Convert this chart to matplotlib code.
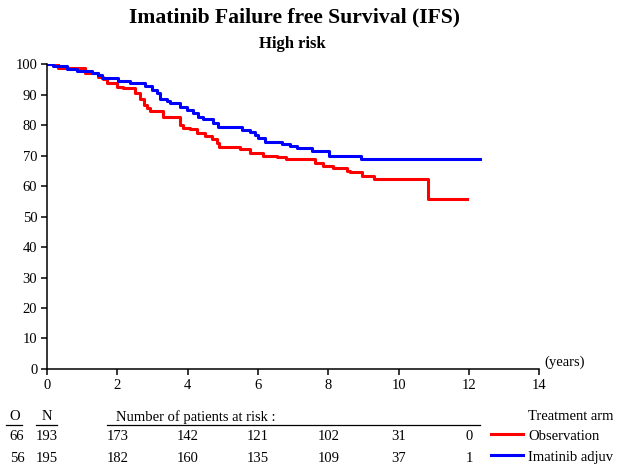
import matplotlib
matplotlib.use("Agg")
import matplotlib.pyplot as plt
from matplotlib.transforms import blended_transform_factory
from matplotlib.patches import Rectangle

plt.rcParams['font.family'] = ['Liberation Serif', 'DejaVu Serif']

# Kaplan-Meier step points (years, % failure-free)
obs_t = [0, 0.31, 1.08, 1.45, 1.59, 1.71, 1.99, 2.16, 2.50, 2.65, 2.76, 2.85, 2.93,
         3.30, 3.78, 3.87, 4.07, 4.27, 4.50, 4.70, 4.84, 4.89, 5.49, 5.78, 6.15,
         6.55, 6.80, 7.63, 7.85, 8.14, 8.54, 8.62, 8.96, 9.31, 10.84, 11.95]
obs_s = [100, 98.6, 97.1, 95.9, 95.0, 93.7, 92.6, 92.0, 90.5, 88.5, 86.5, 85.6, 84.7,
         82.7, 80.0, 79.0, 78.6, 77.5, 76.4, 75.3, 74.0, 72.9, 72.1, 70.8, 70.0,
         69.4, 68.7, 67.4, 66.7, 65.8, 65.0, 64.5, 63.3, 62.2, 55.8, 55.8]

ima_t = [0, 0.17, 0.57, 0.85, 1.28, 1.45, 1.57, 2.02, 2.36, 2.79, 2.99, 3.13, 3.22,
         3.41, 3.50, 3.78, 3.98, 4.15, 4.30, 4.44, 4.72, 4.87, 5.55, 5.78, 5.92,
         6.00, 6.20, 6.69, 6.92, 7.11, 7.54, 8.03, 8.94, 12.32]
ima_s = [100, 99.3, 98.3, 97.8, 97.2, 96.4, 95.5, 94.5, 93.7, 92.8, 91.5, 90.4, 88.7,
         87.9, 87.1, 85.8, 84.9, 83.8, 82.7, 81.9, 80.8, 79.3, 78.3, 77.6, 76.7,
         75.6, 74.5, 73.8, 73.1, 72.6, 71.4, 69.9, 69.0, 69.0]

arms = ['Observation', 'Imatinib adjuvant']
colors = ['#ff0000', '#0000ff']
events = ['66', '56']
totals = ['193', '195']
risk_times = [2, 4, 6, 8, 10, 12]
at_risk = [['173', '142', '121', '102', '31', '0'],
           ['182', '160', '135', '109', '37', '1']]

fig = plt.figure(figsize=(6.27, 4.71), dpi=100)
ax = fig.add_axes([0.075, 0.2166, 0.785, 0.6474])

ax.step(obs_t, obs_s, where='post', color=colors[0], lw=2.2)
ax.step(ima_t, ima_s, where='post', color=colors[1], lw=2.2)

ax.set_xlim(0, 14)
ax.set_ylim(0, 100)
ax.set_xticks(range(0, 15, 2))
ax.set_yticks(range(0, 101, 10))
ax.spines['top'].set_visible(False)
ax.spines['right'].set_visible(False)
for s in ['left', 'bottom']:
    ax.spines[s].set_linewidth(1.1)
ax.tick_params(direction='out', length=4, width=1.1, labelsize=10.5, pad=3)
ax.text(14.15, 0, '(years)', fontsize=10.5, va='bottom', ha='left')

fig.text(0.469, 0.963, 'Imatinib Failure free Survival (IFS)', ha='center', va='center',
         fontsize=15.6, fontweight='bold')
fig.text(0.466, 0.907, 'High risk', ha='center', va='center', fontsize=12, fontweight='bold')

# number at risk table
W, H = 627.0, 471.0
def fx(px):
    return px / W
def fy(py):
    return 1 - py / H

clip = Rectangle((0, 0), 613 / W, 1, transform=fig.transFigure, visible=False)
fig.add_artist(clip)
mix = blended_transform_factory(ax.transData, fig.transFigure)

fs = 10.5
texts = []
texts.append(fig.text(fx(15), fy(417), 'O', ha='center', va='center', fontsize=fs))
texts.append(fig.text(fx(47), fy(417), 'N', ha='center', va='center', fontsize=fs))
texts.append(fig.text(fx(116), fy(417), 'Number of patients at risk :', ha='left', va='center', fontsize=fs))
fig.add_artist(plt.Line2D([fx(6), fx(22)], [fy(425), fy(425)], color='black', lw=0.9))
fig.add_artist(plt.Line2D([fx(36), fx(57)], [fy(425), fy(425)], color='black', lw=0.9))
fig.add_artist(plt.Line2D([fx(107), fx(480)], [fy(425), fy(425)], color='black', lw=0.9))

row_y = [437, 458]
for i in range(2):
    texts.append(fig.text(fx(17), fy(row_y[i]), events[i], ha='center', va='center', fontsize=fs))
    texts.append(fig.text(fx(47), fy(row_y[i]), totals[i], ha='center', va='center', fontsize=fs))
    for t, v in zip(risk_times, at_risk[i]):
        ax.text(t, fy(row_y[i]), v, ha='center', va='center', fontsize=fs,
                transform=mix, clip_on=False)
    fig.add_artist(plt.Line2D([fx(491), fx(523)], [fy(row_y[i] - 3), fy(row_y[i] - 3)],
                              color=colors[i], lw=2.2))
    texts.append(fig.text(fx(528), fy(row_y[i]), arms[i], ha='left', va='center', fontsize=fs))
texts.append(fig.text(fx(528), fy(417), 'Treatment arm', ha='left', va='center', fontsize=fs))
for t in texts:
    t.set_clip_path(clip)

fig.savefig('out.png', dpi=100)
